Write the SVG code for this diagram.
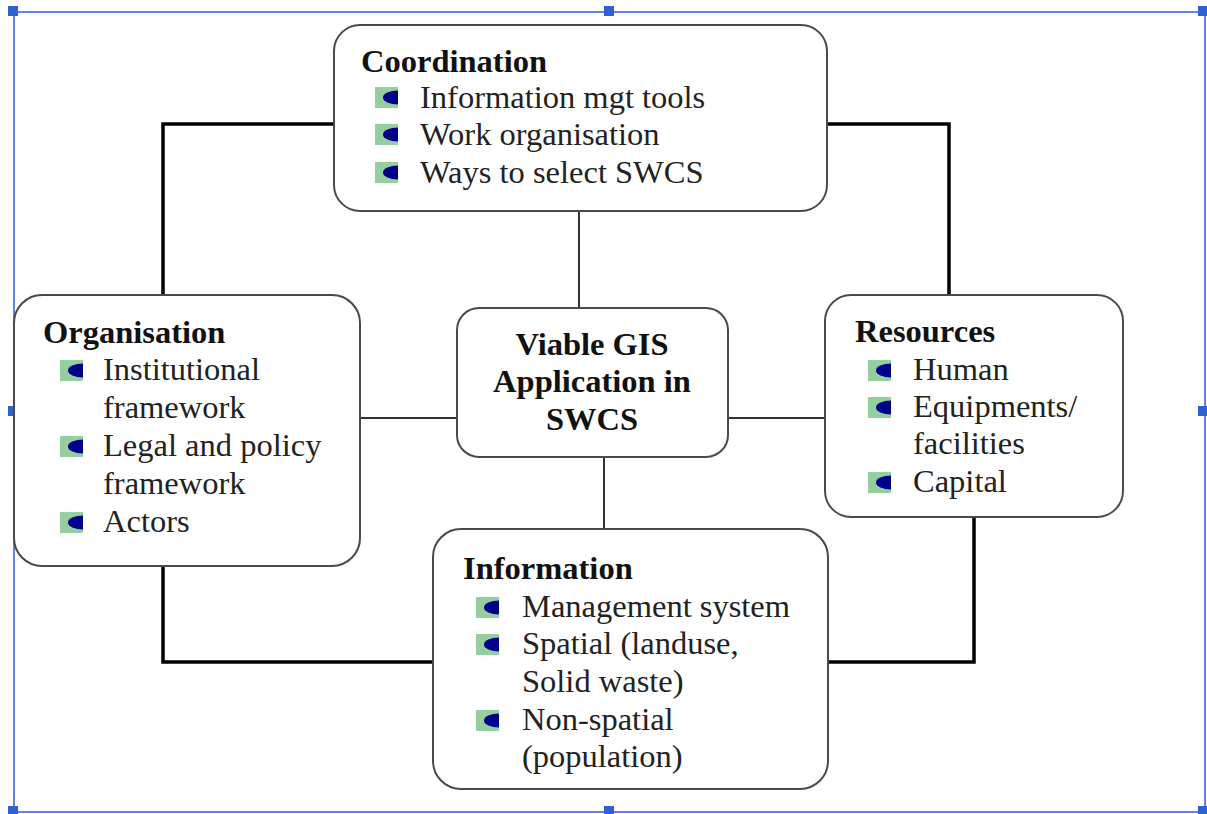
<svg xmlns="http://www.w3.org/2000/svg" width="1207" height="814" viewBox="0 0 1207 814">
<defs>
<style>
.box{fill:#fff;stroke:#4a4a4a;stroke-width:2}
.thick{fill:none;stroke:#000;stroke-width:3.5}
.thin{fill:none;stroke:#333;stroke-width:2}
.title{font-family:"Liberation Serif","Times New Roman",serif;font-weight:bold;font-size:32.5px;fill:#111}
.item{font-family:"Liberation Serif","Times New Roman",serif;font-size:32.5px;fill:#222}
.ctr{font-family:"Liberation Serif","Times New Roman",serif;font-weight:bold;font-size:32.5px;fill:#111;text-anchor:middle}
.frame{fill:none;stroke:#5f86e0;stroke-width:2}
.handle{fill:#2f5fd2}
</style>
<g id="bullet">
<rect x="0" y="0" width="23" height="21" fill="#93cf9f"/>
<path d="M23,3.5 A15,7 0 0 0 23,17.5 Z" fill="#00008b"/>
</g>
</defs>
<rect width="1207" height="814" fill="#fff"/>
<g id="frame">
<rect class="frame" x="14" y="12" width="1191" height="800"/>
<rect class="handle" x="8" y="6" width="10" height="10"/>
<rect class="handle" x="604" y="6" width="10" height="10"/>
<rect class="handle" x="1198" y="6" width="9" height="10"/>
<rect class="handle" x="8" y="406" width="10" height="10"/>
<rect class="handle" x="1198" y="406" width="9" height="10"/>
<rect class="handle" x="8" y="806" width="10" height="8"/>
<rect class="handle" x="604" y="806" width="10" height="8"/>
<rect class="handle" x="1198" y="806" width="9" height="8"/>
</g>
<g id="connectors">
<path class="thick" d="M334,124 H163 V295"/>
<path class="thick" d="M827,124 H949 V295"/>
<path class="thick" d="M163,566 V662 H433"/>
<path class="thick" d="M828,662 H974 V517"/>
<path class="thin" d="M579,211 V308"/>
<path class="thin" d="M360,418 H457"/>
<path class="thin" d="M728,418 H825"/>
<path class="thin" d="M604,457 V529"/>
</g>
<g id="coordination">
<rect class="box" x="334" y="25" width="493" height="186" rx="26"/>
<text class="title" x="361" y="72">Coordination</text>
<use href="#bullet" x="375" y="87"/>
<text class="item" x="420" y="108">Information mgt tools</text>
<use href="#bullet" x="375" y="124"/>
<text class="item" x="420" y="145">Work organisation</text>
<use href="#bullet" x="375" y="162"/>
<text class="item" x="420" y="183">Ways to select SWCS</text>
</g>
<g id="organisation">
<rect class="box" x="14" y="295" width="346" height="271" rx="28"/>
<text class="title" x="43" y="343">Organisation</text>
<use href="#bullet" x="60" y="360"/>
<text class="item" x="103" y="380">Institutional</text>
<text class="item" x="103" y="418">framework</text>
<use href="#bullet" x="60" y="436"/>
<text class="item" x="103" y="456">Legal and policy</text>
<text class="item" x="103" y="494">framework</text>
<use href="#bullet" x="60" y="512"/>
<text class="item" x="103" y="532">Actors</text>
</g>
<g id="center">
<rect class="box" x="457" y="308" width="271" height="149" rx="22"/>
<text class="ctr" x="592" y="355">Viable GIS</text>
<text class="ctr" x="592" y="392">Application in</text>
<text class="ctr" x="592" y="430">SWCS</text>
</g>
<g id="resources">
<rect class="box" x="825" y="295" width="298" height="222" rx="26"/>
<text class="title" x="855" y="342">Resources</text>
<use href="#bullet" x="868" y="360"/>
<text class="item" x="913" y="380">Human</text>
<use href="#bullet" x="868" y="397"/>
<text class="item" x="913" y="417">Equipments/</text>
<text class="item" x="913" y="454">facilities</text>
<use href="#bullet" x="868" y="472"/>
<text class="item" x="913" y="492">Capital</text>
</g>
<g id="information">
<rect class="box" x="433" y="529" width="395" height="260" rx="28"/>
<text class="title" x="463" y="579">Information</text>
<use href="#bullet" x="476" y="597"/>
<text class="item" x="522" y="617">Management system</text>
<use href="#bullet" x="476" y="634"/>
<text class="item" x="522" y="654">Spatial (landuse,</text>
<text class="item" x="522" y="692">Solid waste)</text>
<use href="#bullet" x="476" y="710"/>
<text class="item" x="522" y="730">Non-spatial</text>
<text class="item" x="522" y="767">(population)</text>
</g>
</svg>
